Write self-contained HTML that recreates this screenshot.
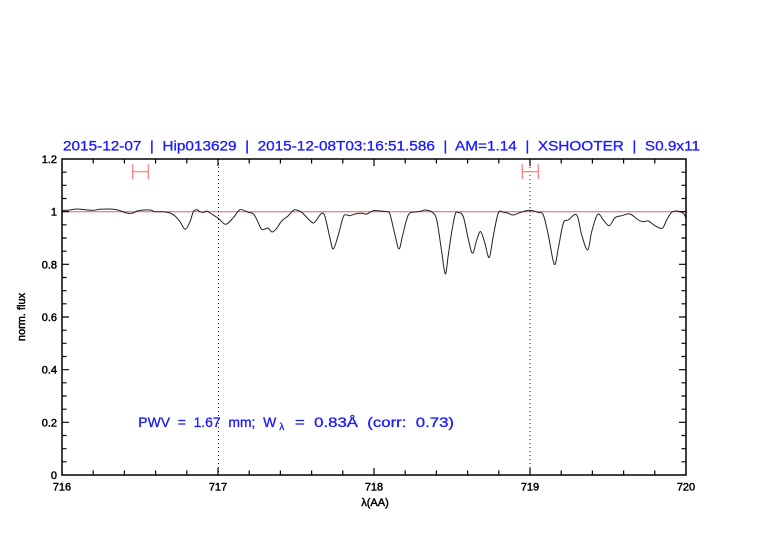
<!DOCTYPE html>
<html><head><meta charset="utf-8"><style>
html,body{margin:0;padding:0;background:#fff;width:782px;height:542px;overflow:hidden}
svg{display:block}
text{font-family:"Liberation Sans",sans-serif;white-space:pre}
</style></head><body>
<svg id="s" width="782" height="542" viewBox="0 0 782 542" xmlns="http://www.w3.org/2000/svg">
<rect width="782" height="542" fill="#fff"/>
<!-- title -->
<text x="63" y="150.5" font-size="14" fill="#1a1aff" textLength="637" lengthAdjust="spacingAndGlyphs" stroke="#1a1aff" stroke-width="0.3">2015-12-07  |  Hip013629  |  2015-12-08T03:16:51.586  |  AM=1.14  |  XSHOOTER  |  S0.9x11</text>

<!-- reference line at 1 -->
<line x1="62" y1="211.7" x2="686" y2="211.7" stroke="#f05a5a" stroke-width="1"/>

<!-- dotted verticals -->
<line x1="218.5" y1="159" x2="218.5" y2="475" stroke="#000" stroke-width="0.9" stroke-dasharray="1,3"/>
<line x1="530" y1="159" x2="530" y2="475" stroke="#000" stroke-width="0.9" stroke-dasharray="1,3"/>

<!-- error bars -->
<g stroke="#f77" stroke-width="1.2" fill="none">
<path d="M132.7 171.7H148.3M132.7 164.3V179.3M148.3 164.3V179.3"/>
<path d="M522.3 171.7H538.3M522.3 164.3V179.3M538.3 164.3V179.3"/>
</g>

<!-- spectrum -->
<polyline id="spec" fill="none" stroke="#222" stroke-width="1" stroke-linejoin="round" points="62,210.5 70,210 76.7,209 85,209.7 93,210.3 100,209.3 110,209 118,210 126.7,213 133,213 138,210.7 150,210 155,211.7 163,211.7 170,213 175,216 180,221.7 185.3,229.3 190,221.7 193.3,211.7 196.7,209.7 200,211.7 204,212.3 206.7,211 211.7,214 218.3,218.3 225.7,224.3 233.3,217.7 240,209.7 248.3,212.3 253.3,213.7 257,220 261.7,229.3 266.7,228.3 268.3,228.3 272.3,232 276.7,228.3 281.7,221 288.3,215.7 293.3,210.3 296.7,210 301.7,212.3 308.3,219 313.3,223 317.7,218.3 321.7,213.3 325,216.7 330,238.3 333.3,249 338.3,235 343.3,216.7 346.7,215 350,215.7 355,214 361.7,213.3 366.7,214 373.3,210.7 380,211 386.7,211.7 390,214.3 395,235 399,249 402.7,235 408.3,215 415,212 420,211.5 425,210 432,212 436.7,220 441.7,251.7 445.3,274 448.3,255 451.7,232 455.3,214 458.3,212.5 463.3,216.7 468.3,239 472.5,253.3 476.7,240 480.5,231.5 484.7,242.5 489.2,257.5 493.3,236 498.3,213 503.3,212.3 508.3,213.3 513.3,215 521.7,212 530,210.3 538.3,212.5 543.3,215 548.3,235 554.3,264.3 558.3,248.3 563.3,223.3 568.3,220 576.7,215 581.7,235 587.7,250 591.7,231.7 597.7,214.3 603.3,220 609.3,225.7 615,217.7 621.7,215.7 630,214 638.3,220 643.3,221.7 648.3,221 655,225.7 662.3,228.3 666.7,220 671.7,212.3 676.7,211 683.3,213.3 686,218"/>

<!-- frame -->
<rect x="62" y="159" width="624" height="316" fill="none" stroke="#000" stroke-width="1.5"/>

<!-- ticks -->
<g stroke="#000" stroke-width="1.2" fill="none">
<path d="M93.2 475v-4.5M124.4 475v-4.5M155.6 475v-4.5M186.8 475v-4.5M218 475v-7M249.2 475v-4.5M280.4 475v-4.5M311.6 475v-4.5M342.8 475v-4.5M374 475v-7M405.2 475v-4.5M436.4 475v-4.5M467.6 475v-4.5M498.8 475v-4.5M530 475v-7M561.2 475v-4.5M592.4 475v-4.5M623.6 475v-4.5M654.8 475v-4.5"/>
<path d="M93.2 159v4.5M124.4 159v4.5M155.6 159v4.5M186.8 159v4.5M218 159v7M249.2 159v4.5M280.4 159v4.5M311.6 159v4.5M342.8 159v4.5M374 159v7M405.2 159v4.5M436.4 159v4.5M467.6 159v4.5M498.8 159v4.5M530 159v7M561.2 159v4.5M592.4 159v4.5M623.6 159v4.5M654.8 159v4.5"/>
<path d="M62 461.83h4.5M62 448.67h4.5M62 435.5h4.5M62 422.33h7M62 409.17h4.5M62 396h4.5M62 382.83h4.5M62 369.67h7M62 356.5h4.5M62 343.33h4.5M62 330.17h4.5M62 317h7M62 303.83h4.5M62 290.67h4.5M62 277.5h4.5M62 264.33h7M62 251.17h4.5M62 238h4.5M62 224.83h4.5M62 211.67h7M62 198.5h4.5M62 185.33h4.5M62 172.17h4.5"/>
<path d="M686 461.83h-4.5M686 448.67h-4.5M686 435.5h-4.5M686 422.33h-7M686 409.17h-4.5M686 396h-4.5M686 382.83h-4.5M686 369.67h-7M686 356.5h-4.5M686 343.33h-4.5M686 330.17h-4.5M686 317h-7M686 303.83h-4.5M686 290.67h-4.5M686 277.5h-4.5M686 264.33h-7M686 251.17h-4.5M686 238h-4.5M686 224.83h-4.5M686 211.67h-7M686 198.5h-4.5M686 185.33h-4.5M686 172.17h-4.5"/>
</g>

<!-- y tick labels -->
<g font-size="11" fill="#000" stroke="#000" stroke-width="0.45" text-anchor="end">
<text x="57" y="479">0</text>
<text x="57" y="426.3">0.2</text>
<text x="57" y="373.7">0.4</text>
<text x="57" y="321">0.6</text>
<text x="57" y="268.3">0.8</text>
<text x="57" y="215.7">1</text>
<text x="57" y="163">1.2</text>
</g>
<!-- x tick labels -->
<g font-size="11" fill="#000" stroke="#000" stroke-width="0.45" text-anchor="middle">
<text x="62" y="490.5">716</text>
<text x="218" y="490.5">717</text>
<text x="374" y="490.5">718</text>
<text x="530" y="490.5">719</text>
<text x="686" y="490.5">720</text>
</g>
<!-- axis labels -->
<text x="375" y="506" font-size="11" fill="#000" stroke="#000" stroke-width="0.45" text-anchor="middle">λ(AA)</text>
<text transform="translate(25,317) rotate(-90)" font-size="11" fill="#000" stroke="#000" stroke-width="0.45" text-anchor="middle">norm. flux</text>

<!-- annotation -->
<g fill="#1a1aff" stroke="#1a1aff" stroke-width="0.3">
<text x="138.3" y="427" font-size="13.5" textLength="138" lengthAdjust="spacingAndGlyphs">PWV  =  1.67  mm;  W</text>
<text x="279.3" y="430" font-size="10">λ</text>
<text x="295" y="427" font-size="13.5" textLength="159" lengthAdjust="spacingAndGlyphs">=  0.83Å  (corr:  0.73)</text>
</g>
</svg>
<script>
(function(){
var pl=document.getElementById('spec');
var pts=pl.getAttribute('points').trim().split(/\s+/).map(function(p){var a=p.split(',');return [parseFloat(a[0]),parseFloat(a[1])];});
var d='M'+pts[0][0]+' '+pts[0][1];
for(var i=0;i<pts.length-1;i++){
var p0=pts[i>0?i-1:i],p1=pts[i],p2=pts[i+1],p3=pts[i+2<pts.length?i+2:i+1];
var c1x=p1[0]+(p2[0]-p0[0])/6,c1y=p1[1]+(p2[1]-p0[1])/6;
var c2x=p2[0]-(p3[0]-p1[0])/6,c2y=p2[1]-(p3[1]-p1[1])/6;
d+='C'+c1x.toFixed(2)+' '+c1y.toFixed(2)+' '+c2x.toFixed(2)+' '+c2y.toFixed(2)+' '+p2[0]+' '+p2[1];
}
var path=document.createElementNS('http://www.w3.org/2000/svg','path');
path.setAttribute('d',d);path.setAttribute('fill','none');path.setAttribute('stroke','#222');path.setAttribute('stroke-width','1');
pl.parentNode.replaceChild(path,pl);
})();
</script>
</body></html>
